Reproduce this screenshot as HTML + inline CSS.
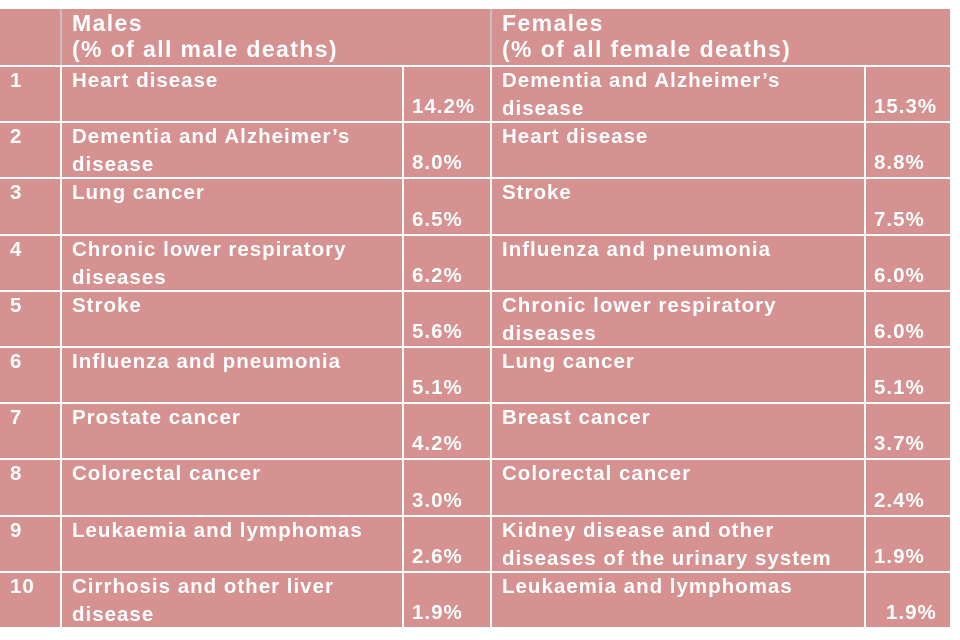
<!DOCTYPE html>
<html><head><meta charset="utf-8"><style>
body{margin:0;width:960px;height:640px;background:#fff;overflow:hidden;font-family:"Liberation Sans",Arial,sans-serif;}
.c{position:absolute;background:#d69191;color:#fff;font-weight:bold;font-size:20.5px;line-height:28px;box-sizing:border-box;padding:0 10px;letter-spacing:1px;white-space:nowrap;}
.h{font-size:23px;line-height:26px;padding-top:1px;letter-spacing:1.4px}
.p{display:flex;align-items:flex-end;padding-bottom:0;padding-left:8px}
</style></head><body>
<div id="t"></div>
<script>
const ranks=['1','2','3','4','5','6','7','8','9','10'];
const maleCauses=['Heart disease','Dementia and Alzheimer’s<br>disease','Lung cancer','Chronic lower respiratory<br>diseases','Stroke','Influenza and pneumonia','Prostate cancer','Colorectal cancer','Leukaemia and lymphomas','Cirrhosis and other liver<br>disease'];
const malePct=['14.2%','8.0%','6.5%','6.2%','5.6%','5.1%','4.2%','3.0%','2.6%','1.9%'];
const femaleCauses=['Dementia and Alzheimer’s<br>disease','Heart disease','Stroke','Influenza and pneumonia','Chronic lower respiratory<br>diseases','Lung cancer','Breast cancer','Colorectal cancer','Kidney disease and other<br>diseases of the urinary system','Leukaemia and lymphomas'];
const femalePct=['15.3%','8.8%','7.5%','6.0%','6.0%','5.1%','3.7%','2.4%','1.9%','1.9%'];
const t=document.getElementById('t');
function cell(x,y,w,h,html,cls,name){
  const d=document.createElement('div');
  d.className='c '+(cls||'');
  d.style.left=x+'px';d.style.top=y+'px';d.style.width=w+'px';d.style.height=h+'px';
  d.innerHTML=html;
  
  
  t.appendChild(d);return d;
}
cell(0,9,60,56,'','h','header-rank');
cell(62,9,428,56,'Males<br>(% of all male deaths)','h','header-males');
cell(492,9,458,56,'Females<br>(% of all female deaths)','h','header-females');
const sep1=document.createElement('div');sep1.style.cssText='position:absolute;left:60px;top:9px;width:2px;height:56px;background:#c7c0c0';


t.appendChild(sep1);
const sep2=document.createElement('div');sep2.style.cssText='position:absolute;left:490px;top:9px;width:2px;height:56px;background:#c7c0c0';


t.appendChild(sep2);
const y0=67,rh=56.2;
ranks.forEach((r,i)=>{
  const y=Math.round(y0+i*rh),h=Math.round(y0+(i+1)*rh)-y-2;
  cell(0,y,60,h,r,'','rank-'+r);
  cell(62,y,340,h,maleCauses[i],'','male-cause-'+r);
  cell(404,y,86,h,malePct[i],'p','male-pct-'+r);
  cell(492,y,372,h,femaleCauses[i],'','female-cause-'+r);
  const fp=cell(866,y,84,h,femalePct[i],'p','female-pct-'+r);
  if(i===9)fp.style.paddingLeft='20px';
});
</script>
</body></html>
